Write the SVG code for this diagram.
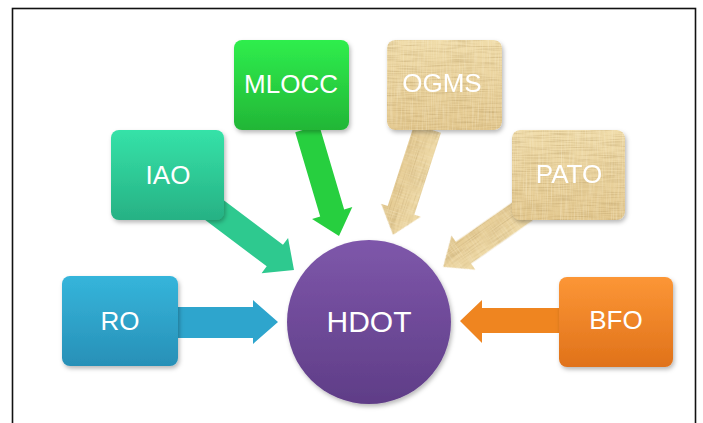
<svg xmlns="http://www.w3.org/2000/svg" width="703" height="423" viewBox="0 0 703 423">
  <defs>
    <style>
      .label { font-family: "Liberation Sans", Arial, sans-serif; font-size: 26px; fill: #ffffff; text-anchor: middle; }
      .hub { font-size: 30px; }
      .box { filter: url(#shadow); }
    </style>
    <linearGradient id="gRO" x1="0" y1="0" x2="0" y2="1">
      <stop offset="0" stop-color="#35b5db"/><stop offset="1" stop-color="#2890b7"/>
    </linearGradient>
    <linearGradient id="gIAO" x1="0" y1="0" x2="0" y2="1">
      <stop offset="0" stop-color="#35e2a8"/><stop offset="1" stop-color="#27b184"/>
    </linearGradient>
    <linearGradient id="gMLOCC" x1="0" y1="0" x2="0" y2="1">
      <stop offset="0" stop-color="#2fee4d"/><stop offset="1" stop-color="#22b636"/>
    </linearGradient>
    <linearGradient id="gTan" x1="0" y1="0" x2="0" y2="1">
      <stop offset="0" stop-color="#f0dcaa"/><stop offset="1" stop-color="#e3c88f"/>
    </linearGradient>
    <linearGradient id="gBFO" x1="0" y1="0" x2="0" y2="1">
      <stop offset="0" stop-color="#fc9636"/><stop offset="1" stop-color="#e0721a"/>
    </linearGradient>
    <linearGradient id="gHDOT" x1="0" y1="0" x2="0" y2="1">
      <stop offset="0" stop-color="#7e57aa"/><stop offset="1" stop-color="#5f3d87"/>
    </linearGradient>

    <!-- soft drop shadow for boxes -->
    <filter id="shadow" x="-10%" y="-10%" width="125%" height="130%">
      <feDropShadow dx="1.5" dy="2.5" stdDeviation="2" flood-color="#000" flood-opacity="0.28"/>
    </filter>

    <!-- light woven burlap texture for the tan shapes -->
    <filter id="weave" x="0" y="0" width="1" height="1" color-interpolation-filters="sRGB">
      <feTurbulence type="fractalNoise" baseFrequency="0.04 0.8" numOctaves="2" seed="4" result="n1"/>
      <feColorMatrix in="n1" type="matrix" values="0 0 0 0 0.62  0 0 0 0 0.5  0 0 0 0 0.28  0.7 0 0 0 -0.3" result="s1"/>
      <feTurbulence type="fractalNoise" baseFrequency="0.8 0.04" numOctaves="2" seed="9" result="n2"/>
      <feColorMatrix in="n2" type="matrix" values="0 0 0 0 1  0 0 0 0 0.97  0 0 0 0 0.88  0.7 0 0 0 -0.3" result="s2"/>
      <feMerge result="m">
        <feMergeNode in="SourceGraphic"/>
        <feMergeNode in="s1"/>
        <feMergeNode in="s2"/>
      </feMerge>
      <feComposite in="m" in2="SourceGraphic" operator="in"/>
    </filter>
  </defs>

  <rect x="0" y="0" width="703" height="423" fill="#ffffff"/>
  <rect x="12.5" y="8.5" width="683" height="440" fill="none" stroke="#111111" stroke-width="1.6"/>

  <!-- block arrows; rotated ones are drawn tip-at-origin along +x -->
  <g id="connectors">
    <path d="M278,322 L253,300 L253,307 L170,307 L170,338 L253,338 L253,344 Z" fill="#2ea5cd"/>
    <path d="M0,0 L-24,-22 L-24,-13.5 L-106,-13.5 L-106,13.5 L-24,13.5 L-24,22 Z" transform="translate(294,270) rotate(37)" fill="#2ec98f"/>
    <path d="M0,0 L-24,-21 L-24,-12.5 L-112,-12.5 L-112,12.5 L-24,12.5 L-24,21 Z" transform="translate(339,236) rotate(73.5)" fill="#27cf3f"/>
    <path d="M0,0 L-26,-21 L-26,-14 L-112,-14 L-112,14 L-26,14 L-26,21 Z" transform="translate(393,235) rotate(108)" fill="url(#gTan)" filter="url(#weave)"/>
    <path d="M0,0 L-25,-21 L-25,-13.5 L-100,-13.5 L-100,13.5 L-25,13.5 L-25,21 Z" transform="translate(443,267) rotate(145)" fill="url(#gTan)" filter="url(#weave)"/>
    <path d="M460,321 L482,300 L482,308 L566,308 L566,333 L482,333 L482,343 Z" fill="#ef8520"/>
  </g>

  <g id="node-HDOT">
    <circle cx="369" cy="322" r="82" fill="url(#gHDOT)" class="box"/>
    <text x="369" y="332" class="label hub">HDOT</text>
  </g>

  <g id="node-RO">
    <rect x="62" y="276" width="116" height="90" rx="8" fill="url(#gRO)" class="box"/>
    <text x="120" y="330" class="label">RO</text>
  </g>

  <g id="node-IAO">
    <rect x="111" y="130" width="113" height="90" rx="8" fill="url(#gIAO)" class="box"/>
    <text x="168" y="184" class="label">IAO</text>
  </g>

  <g id="node-MLOCC">
    <rect x="234" y="40" width="115" height="90" rx="8" fill="url(#gMLOCC)" class="box"/>
    <text x="291" y="93" class="label">MLOCC</text>
  </g>

  <g id="node-OGMS" class="box">
    <rect x="387" y="40" width="115" height="90" rx="8" fill="url(#gTan)" filter="url(#weave)"/>
    <text x="442" y="92" class="label">OGMS</text>
  </g>

  <g id="node-PATO" class="box">
    <rect x="512" y="130" width="113" height="90" rx="8" fill="url(#gTan)" filter="url(#weave)"/>
    <text x="569" y="183" class="label">PATO</text>
  </g>

  <g id="node-BFO">
    <rect x="559" y="277" width="114" height="90" rx="8" fill="url(#gBFO)" class="box"/>
    <text x="616" y="329" class="label">BFO</text>
  </g>
</svg>
